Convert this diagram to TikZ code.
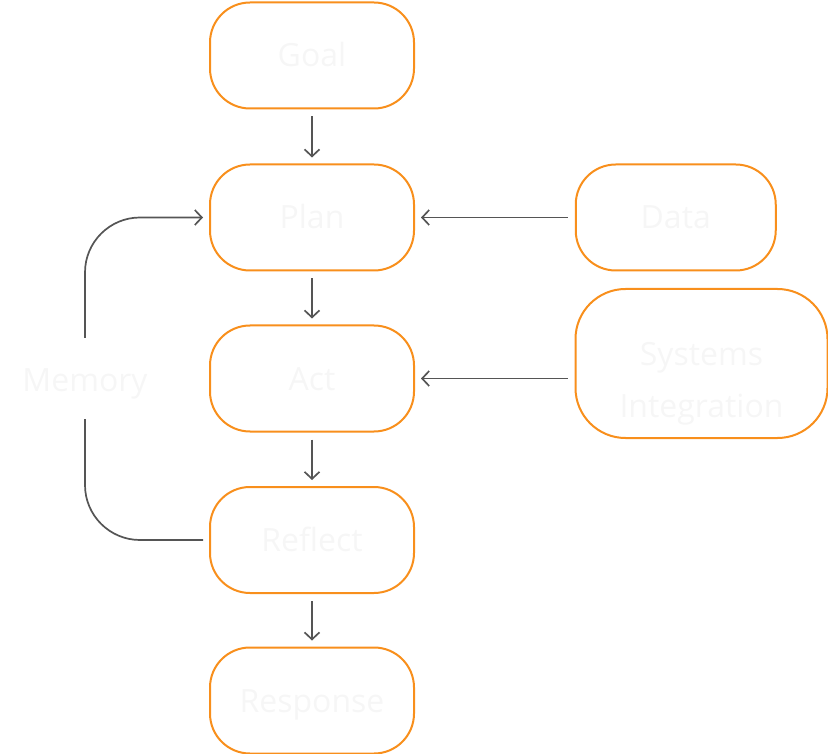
\documentclass[tikz,border=0pt]{standalone}
\usepackage{fontspec}
\setmainfont{Open Sans}
\usetikzlibrary{arrows.meta}
\definecolor{boxorange}{RGB}{248,143,28}
\definecolor{linegray}{RGB}{85,85,85}
\definecolor{paletext}{RGB}{246,246,246}
\begin{document}
\begin{tikzpicture}[x=1pt,y=-1pt,
    box/.style={draw=boxorange, line width=2pt, rounded corners=40pt, minimum width=204pt, minimum height=106pt,
        inner sep=0pt, outer sep=0pt, text=paletext, font=\fontsize{32}{52}\selectfont, align=center,
        text height=23pt, text depth=0pt},
    link/.style={draw=linegray, line width=1.7pt, -{Straight Barb[length=7pt,width=15pt]}, shorten >=7pt, shorten <=8pt}]
    \useasboundingbox (0,0) rectangle (828,754);
    % main column
    \node[box] (goal) at (312,55.5) {Goal};
    \node[box] (plan) at (312,217.5) {Plan};
    \node[box] (act) at (312,378.5) {Act};
    \node[box] (reflect) at (312,540) {Reflect};
    \node[box] (response) at (312,700.5) {Response};
    % inputs on the right
    \node[box, minimum width=200pt] (data) at (675.75,217.5) {Data};
    \node[box, minimum width=252pt, minimum height=149pt, rounded corners=50pt, text height=107pt] (systems) at (701.5,363.5) {Systems\\Integration};
    \node[text=paletext, font=\fontsize{32}{52}\selectfont] (memory) at (85,384) {Memory};
    \coordinate (memtop) at (85,338);
    \coordinate (membot) at (85,419);
    \draw[link] (goal) -- (plan);
    \draw[link] (plan) -- (act);
    \draw[link] (act) -- (reflect);
    \draw[link] (reflect) -- (response);
    \draw[link] (data) -- (plan);
    \draw[link] (systems.west |- act) -- (act);
    % memory loop
    \draw[link, rounded corners=55pt, shorten <=0pt] (memtop) |- (plan.west);
    \draw[draw=linegray, line width=1.7pt, rounded corners=55pt, shorten <=7pt] (reflect.west) -| (membot);
\end{tikzpicture}
\end{document}
